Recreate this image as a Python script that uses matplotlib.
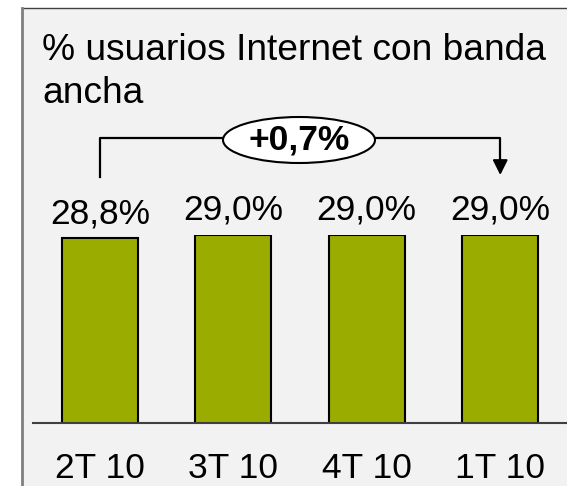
import matplotlib
matplotlib.use("Agg")
import matplotlib.pyplot as plt
from matplotlib.patches import Ellipse, Rectangle
from matplotlib.lines import Line2D
import matplotlib.transforms as mtransforms
import numpy as np

plt.rcParams['font.family'] = ['Liberation Sans', 'DejaVu Sans']

categories = ["2T 10", "3T 10", "4T 10", "1T 10"]
values = [28.8, 29.0, 29.0, 29.0]
value_labels = ["28,8%", "29,0%", "29,0%", "29,0%"]
title_lines = ["% usuarios Internet con banda", "ancha"]
change_label = "+0,7%"

W, H = 567, 486
fig = plt.figure(figsize=(W / 100, H / 100), dpi=100, facecolor='white')

def fx(px):
    return px / W

def fy(py):
    return 1 - py / H

# panel background and frame
bg = Rectangle((fx(22), 0), 1 - fx(22), fy(8), transform=fig.transFigure,
               facecolor='#f2f2f2', edgecolor='none', zorder=-5)
fig.add_artist(bg)
fig.add_artist(Line2D([fx(22), 1], [fy(8), fy(8)], color='#404040', lw=1.0, transform=fig.transFigure, zorder=-4))
fig.add_artist(Line2D([fx(22), fx(22)], [fy(8), 0], color='#808080', lw=2.0, transform=fig.transFigure, zorder=-4))

# axes
ax_top_px = 235
ax_bot_px = 423
ax = fig.add_axes([fx(33), fy(ax_bot_px), 1 - fx(33), (ax_bot_px - ax_top_px) / H])
ax.set_facecolor('none')
ax.set_zorder(1)
x = np.arange(len(categories))
ax.bar(x, values, width=0.57, color='#9aac00', edgecolor='black', linewidth=1.5, zorder=2)
ax.set_xlim(-0.5, len(categories) - 0.5)
ax.set_ylim(17, 29.0)
for s in ['top', 'right', 'left']:
    ax.spines[s].set_visible(False)
ax.spines['bottom'].set_color('#404040')
ax.spines['bottom'].set_linewidth(1.5)
ax.spines['bottom'].set_zorder(3)
ax.set_yticks([])
ax.set_xticks(x)
ax.set_xticklabels(categories, fontsize=25.5)
ax.tick_params(axis='x', length=0, pad=21)

for xi, v, lab in zip(x, values, value_labels):
    ax.annotate(lab, (xi, v), xytext=(0, 15), textcoords='offset pixels',
                ha='center', va='baseline', fontsize=25.5, annotation_clip=False)

# title
fig.text(fx(42), fy(60), title_lines[0], fontsize=26.7, ha='left', va='baseline')
fig.text(fx(42), fy(103), title_lines[1], fontsize=26.7, ha='left', va='baseline')

# bracket annotation
blend = mtransforms.blended_transform_factory(ax.transData, fig.transFigure)
y_line = fy(138)
x0, x1 = x[0], x[-1]
fig.add_artist(Line2D([x0, x0, x1, x1], [fy(177), y_line, y_line, fy(162)],
                      color='black', lw=1.6, transform=blend))
ax.annotate('', xy=(x1, fy(175)), xycoords=blend, xytext=(x1, fy(159)), textcoords=blend,
            arrowprops=dict(arrowstyle='-|>,head_length=0.9,head_width=0.45', color='black', lw=1.5,
                            shrinkA=0, shrinkB=0), annotation_clip=False)
ell = Ellipse((fx(299), fy(140)), 152 / W, 46 / H, transform=fig.transFigure,
              facecolor='white', edgecolor='black', lw=1.5, zorder=5)
fig.add_artist(ell)
fig.text(fx(299), fy(140), change_label, fontsize=25.5, fontweight='bold', ha='center', va='center', zorder=6)

fig.savefig("out.png", dpi=100, facecolor='white')
